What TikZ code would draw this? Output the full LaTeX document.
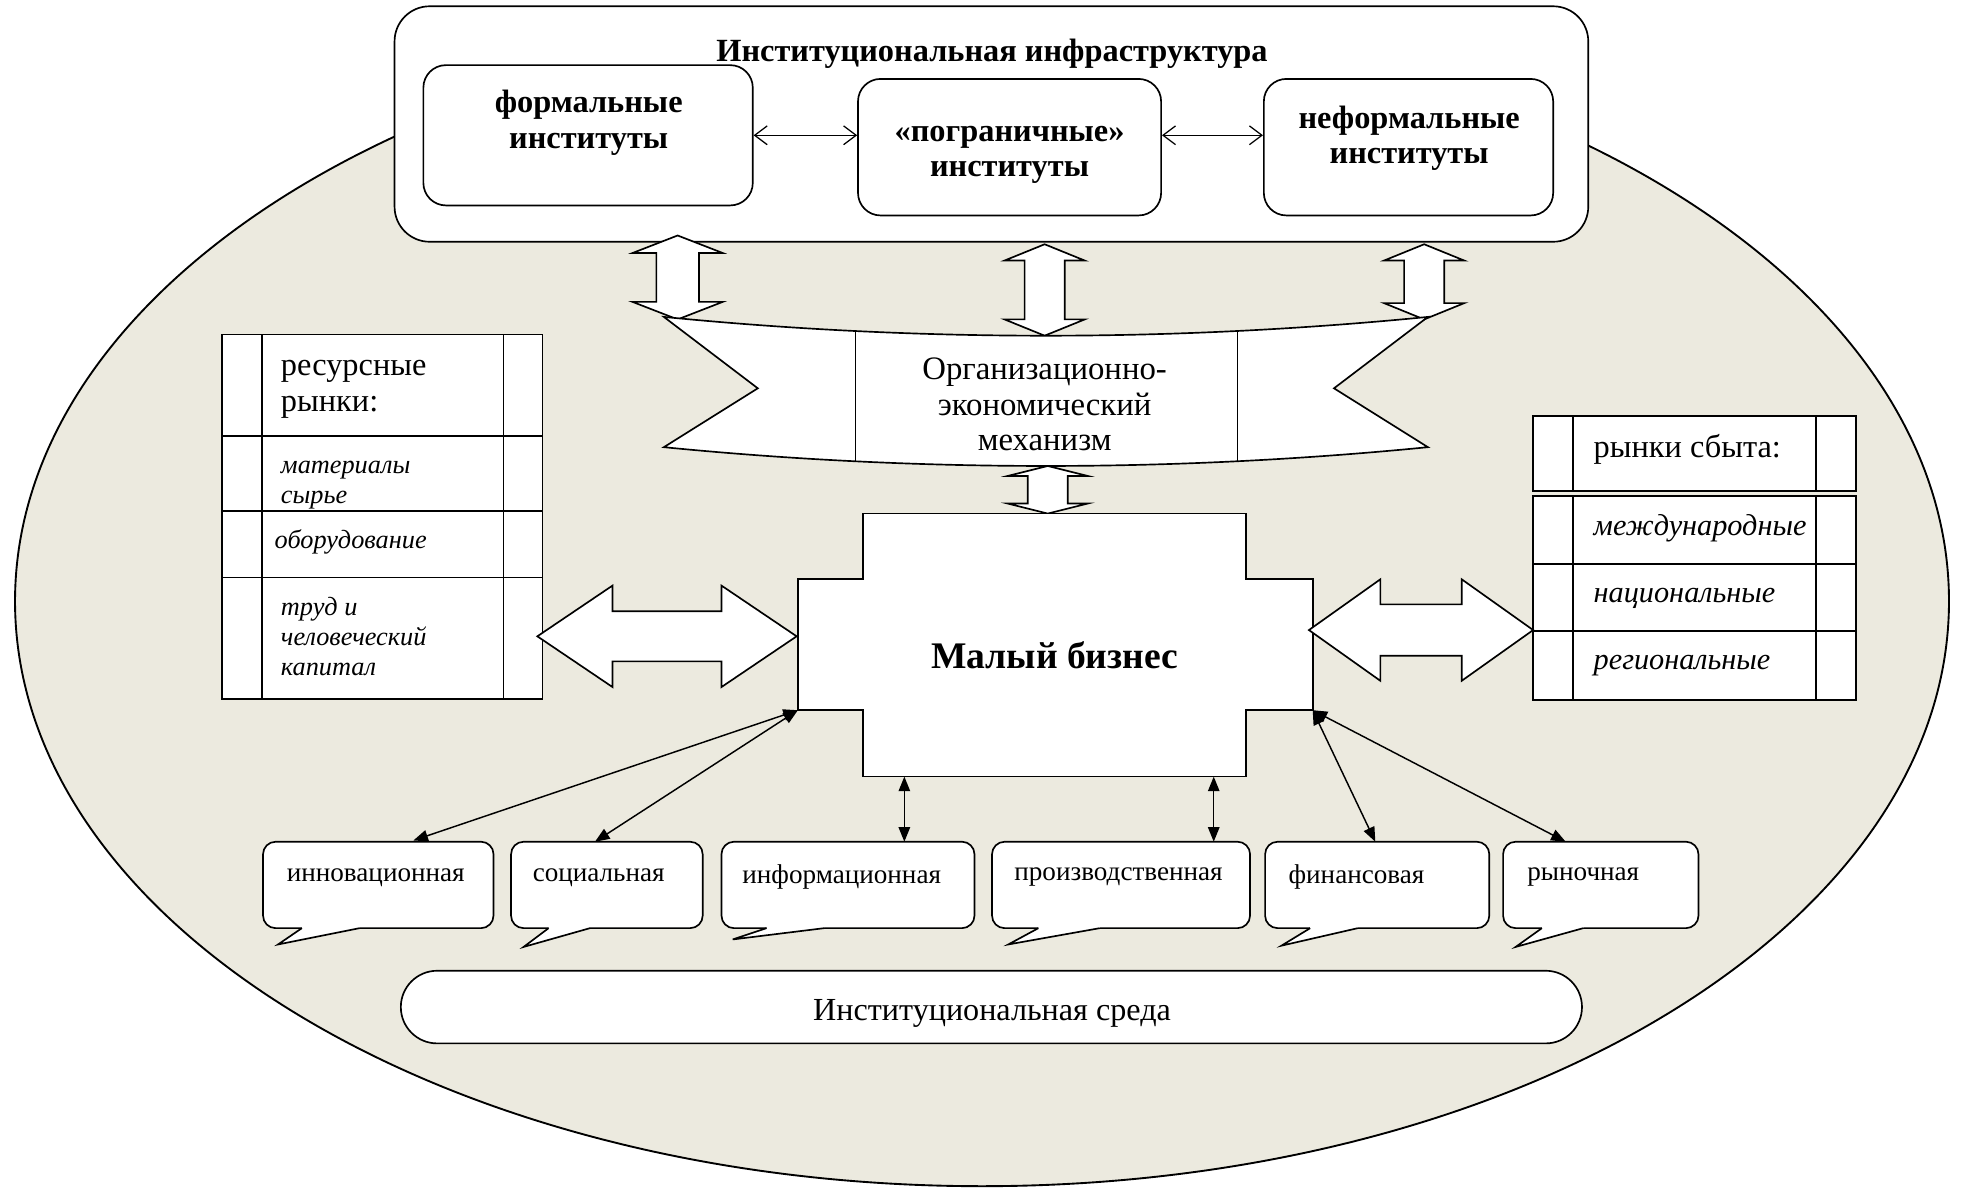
\documentclass[tikz,border=0pt]{standalone}
\usepackage{fontspec}
\setmainfont{Liberation Serif}
\usetikzlibrary{arrows.meta}
\definecolor{bgbeige}{RGB}{236,234,223}
\tikzset{
  ln/.style={draw=black, line width=0.8pt},
  wbox/.style={ln, fill=white, inner sep=0pt},
  rbox/.style={wbox, rounded corners=10.8pt},
  cbox/.style={wbox, rounded corners=6pt},
  blockarrow/.style={ln, fill=white, line join=miter},
  thinarr/.style={line width=0.7pt, {Triangle[length=7pt,width=5.5pt]}-{Triangle[length=7pt,width=5.5pt]}},
  barbarr/.style={line width=0.6pt, {Straight Barb[length=6pt,width=9pt]}-{Straight Barb[length=6pt,width=9pt]}},
  ttl/.style={font=\fontsize{15.5}{16.8}\selectfont\bfseries, inner sep=0pt, align=center},
  rtxt/.style={font=\fontsize{15.5}{17.4}\selectfont, inner sep=0pt, align=left, anchor=west},
  ltit/.style={font=\fontsize{12.6}{14.4}\selectfont\itshape, inner sep=0pt, align=left, anchor=west},
  rtit/.style={font=\fontsize{14.5}{16}\selectfont\itshape, inner sep=0pt, align=left, anchor=west},
  ctext/.style={font=\fontsize{13}{15}\selectfont, inner sep=0pt},
}
\newcommand\VDArrow[6]{%
  \draw[blockarrow] (#1,#2) -- ({#1+#4},{#2+#6}) -- ({#1+#5},{#2+#6}) -- ({#1+#5},{#3-#6}) -- ({#1+#4},{#3-#6}) -- (#1,#3) -- ({#1-#4},{#3-#6}) -- ({#1-#5},{#3-#6}) -- ({#1-#5},{#2+#6}) -- ({#1-#4},{#2+#6}) -- cycle;}
\newcommand\HDArrow[6]{%
  \draw[blockarrow] (#1,#3) -- ({#1+#6},{#3-#4}) -- ({#1+#6},{#3-#5}) -- ({#2-#6},{#3-#5}) -- ({#2-#6},{#3-#4}) -- (#2,#3) -- ({#2-#6},{#3+#4}) -- ({#2-#6},{#3+#5}) -- ({#1+#6},{#3+#5}) -- ({#1+#6},{#3+#4}) -- cycle;}
\newcommand\Callout[9]{%
  \node[cbox, minimum width={(#3-#2)*0.6pt}, minimum height=41.4pt] (#1) at ({(#2+#3)/2},706.5) {};
  \fill[white] (#7,738) -- (#7,741) -- (#5,#6) -- (#4,741) -- (#4,738) -- cycle;
  \draw[ln, line join=miter] (#7,741) -- (#5,#6) -- (#4,741);
  \node[ctext] (#1t) at (#8,700.5) {#9};}
\begin{document}
\begin{tikzpicture}[x=0.6pt,y=-0.6pt]
\useasboundingbox (0,0) rectangle (1568,950);
% environment ellipse
\draw[line width=0.9pt, fill=bgbeige] (784,480) ellipse [x radius=772, y radius=467];

% institutional infrastructure
\node[wbox, rounded corners=16.8pt, minimum width=571.8pt, minimum height=112.8pt] (infra) at (791.5,99) {};
\node[ttl] (infrat) at (792,43) {Институциональная инфраструктура};
\node[rbox, minimum width=157.8pt, minimum height=67.2pt] (fb) at (469.5,108) {};
\node[ttl] (fbt) at (470,98) {формальные\\институты};
\node[rbox, minimum width=145.2pt, minimum height=65.4pt] (pb) at (806,117.5) {};
\node[ttl] (pbt) at (806,124) {«пограничные»\\институты};
\node[rbox, minimum width=138.6pt, minimum height=65.4pt] (nb) at (1124.5,117.5) {};
\node[ttl] (nbt) at (1125,110.5) {неформальные\\институты};
\draw[barbarr] (fb.east) -- (fb.east -| pb.west);
\draw[barbarr] (pb.east |- fb.east) -- (fb.east -| nb.west);

% vertical block arrows
\VDArrow{541}{188}{255}{36}{17}{14}
\VDArrow{834}{195}{268}{32}{16}{13}
\VDArrow{1137}{195}{255}{32}{16}{13}

% ribbon
\draw[ln, fill=white, line join=miter] (530,253) .. controls (733,273) and (937,273) .. (1140,253)
  -- (1065,310) -- (1140,357) .. controls (937,377) and (733,377) .. (530,357) -- (605,310) -- cycle;
\draw[ln] (683,264.3) -- (683,368.3);
\draw[ln] (988,264.3) -- (988,368.3);
\node[font=\fontsize{15.7}{17.1}\selectfont, align=center, inner sep=0pt] (oem) at (834,323) {Организационно-\\экономический\\механизм};

\VDArrow{836.5}{372}{410}{32}{16}{8}

% small business
\draw[ln, fill=white, line join=miter] (689,410) -- (995,410) -- (995,462) -- (1048,462) -- (1048,567) -- (995,567) -- (995,620) -- (689,620) -- (689,567) -- (637,567) -- (637,462) -- (689,462) -- cycle;
\node[font=\fontsize{18}{20}\selectfont\bfseries, inner sep=0pt] (mb) at (842,523) {Малый бизнес};
\coordinate (mbSW) at (637,567);
\coordinate (mbSE) at (1048,567);
\coordinate (mbB1) at (722,620);
\coordinate (mbB2) at (969,620);

% resource markets table
\draw[ln, fill=white] (177,267) rectangle (433,558);
\draw[ln] (177,348) -- (433,348);
\draw[ln] (177,408) -- (433,408);
\draw[ln] (177,461) -- (433,461);
\draw[ln] (209,267) -- (209,558);
\draw[ln] (402,267) -- (402,558);
\node[rtxt] (rr) at (224,311) {ресурсные\\рынки:};
\node[ltit] (rr1) at (224,387) {материалы\\сырье};
\node[ltit] (rr2) at (219,433) {оборудование};
\node[ltit] (rr3) at (224,508) {труд и\\человеческий\\капитал};

% sales markets table
\draw[ln, fill=white] (1224,332) rectangle (1482,392);
\draw[ln] (1256,332) -- (1256,392);
\draw[ln] (1450,332) -- (1450,392);
\draw[ln, fill=white] (1224,396) rectangle (1482,559);
\draw[ln] (1224,450) -- (1482,450);
\draw[ln] (1224,504) -- (1482,504);
\draw[ln] (1256,396) -- (1256,559);
\draw[ln] (1450,396) -- (1450,559);
\node[rtxt] (rs) at (1272,359) {рынки сбыта:};
\node[rtit] (rs1) at (1272,422) {международные};
\node[rtit] (rs2) at (1272,477.5) {национальные};
\node[rtit] (rs3) at (1272,531.5) {региональные};

% horizontal block arrows
\HDArrow{429}{636}{508}{40.5}{20}{60}
\HDArrow{1045}{1224}{503}{40.5}{20.5}{57}

% callouts
\Callout{c1}{210}{394}{287}{222}{754}{241}{300}{инновационная}
\Callout{c2}{408}{561}{471}{418}{756}{438}{478}{социальная}
\Callout{c3}{576}{778}{658}{585}{750}{612}{672}{информационная}
\Callout{c4}{792}{998}{878}{805}{754}{829}{893}{производственная}
\Callout{c5}{1010}{1189}{1084}{1023}{755}{1046}{1083}{финансовая}
\Callout{c6}{1200}{1356}{1264}{1210}{756}{1231}{1264}{рыночная}

\coordinate (e1) at (330,671);
\coordinate (e2) at (475,672);
\coordinate (e3) at (722,672);
\coordinate (e4) at (969,672);
\coordinate (e5) at (1098,672);
\coordinate (e6) at (1250,672);
\draw[thinarr] (mbSW) -- (e1);
\draw[thinarr] (mbSW) -- (e2);
\draw[thinarr] (mbB1) -- (e3);
\draw[thinarr] (mbB2) -- (e4);
\draw[thinarr] (mbSE) -- (e5);
\draw[thinarr] (mbSE) -- (e6);

% institutional environment
\node[wbox, rounded corners=17.4pt, minimum width=565.8pt, minimum height=34.8pt] (env) at (791.5,804) {};
\node[font=\fontsize{15.4}{17}\selectfont, inner sep=0pt] (envt) at (792,809) {Институциональная среда};
\end{tikzpicture}
\end{document}
